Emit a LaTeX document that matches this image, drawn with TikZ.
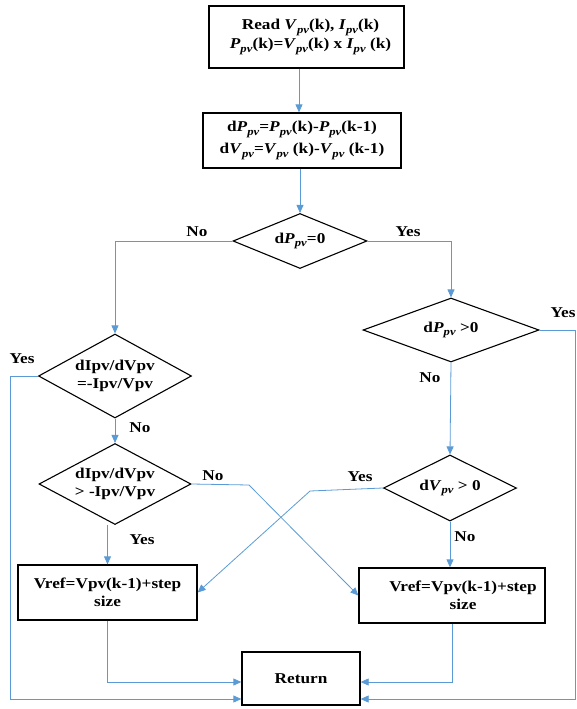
\documentclass[tikz,border=0pt]{standalone}
\usepackage{fontspec}
\setmainfont{Liberation Serif}[FakeStretch=1.15]
\usetikzlibrary{shapes.geometric,arrows.meta}
\definecolor{linkblue}{HTML}{5B9BD5}
\newcommand\sbx[1]{\raisebox{-0.5ex}{\fontsize{11}{11}\selectfont\textit{#1}}}
\newcommand\PV[1]{\textit{#1}\sbx{pv}}
\begin{document}
\begin{tikzpicture}[x=1pt,y=-1pt,
  every node/.style={font=\bfseries\fontsize{15}{18}\selectfont},
  procbox/.style={draw, line width=1.3pt, rectangle, inner sep=0pt, align=center},
  decbox/.style={draw, line width=1.1pt, diamond, inner sep=0pt, align=center},
  link/.style={draw=linkblue, line width=0.8pt},
  arr/.style={link, -{Triangle[length=8pt,width=7pt]}},
  lbl/.style={inner sep=0pt}]
\useasboundingbox (0,0) rectangle (576,709);

% process boxes
\node[procbox, minimum width=195pt, minimum height=62pt, font=\bfseries\fontsize{15}{19}\selectfont] (b1) at (306.5,37)
  {\hspace*{8pt}Read \PV{V}(k), \PV{I}(k)\\ \hspace*{8pt}\PV{P}(k)=\PV{V}(k) x \PV{I} (k)};
\node[procbox, minimum width=198pt, minimum height=55pt, font=\bfseries\fontsize{15}{22}\selectfont] (b2) at (302,140.5)
  {d\PV{P}=\PV{P}(k)-\PV{P}(k-1)\\ d\PV{V}=\PV{V} (k)-\PV{V} (k-1)};

% decisions
\node[decbox, aspect=2.44, minimum width=134pt, minimum height=55pt] (d1) at (300,241) {d\PV{P}=0};
\node[decbox, aspect=2.75, minimum width=176pt, minimum height=64pt] (d3) at (451,330) {d\PV{P} >0};
\node[decbox, aspect=1.82, minimum width=153pt, minimum height=84pt] (d2) at (115,376) {dIpv/dVpv\\=-Ipv/Vpv};
\node[decbox, aspect=1.88, minimum width=152pt, minimum height=81pt] (d5) at (115,484) {dIpv/dVpv\\> -Ipv/Vpv};
\node[decbox, aspect=2.0, minimum width=133pt, minimum height=66pt] (d4) at (450,488) {d\PV{V} > 0};

% action boxes
\node[procbox, minimum width=179pt, minimum height=55pt] (bL) at (107.5,592.5) {Vref=Vpv(k-1)+step\\size};
\node[procbox, minimum width=186pt, minimum height=55pt] (bR) at (452,595.5) {\hspace*{22pt}Vref=Vpv(k-1)+step\\\hspace*{22pt}size};
\node[procbox, minimum width=118pt, minimum height=53pt] (ret) at (301,678.5) {Return};

% helper coordinates
\coordinate (lOut) at (10,699);
\coordinate (rOut) at (575,699);
\coordinate (lIn) at (107.5,682);
\coordinate (rIn) at (452,682);
\coordinate (yBend) at (310,491);
\coordinate (nBend) at (249,485);

% connectors
\draw[arr] (b1.south -| 299,0) -- (b2.north -| 299,0);
\draw[arr] (b2.south -| d1.north) -- (d1.north);
\draw[arr] (d1.west) -| (d2.north);
\draw[arr] (d1.east) -| (d3.north);
\draw[arr] (d3.south) -- (d4.north);
\draw[arr] (d4.south) -- (d4.south |- bR.north);
\draw[arr] (d2.south) -- (d5.north);
\draw[arr] (d5.south -| bL.north) -- (bL.north);
\draw[arr] (d4.west) -- (yBend) -- (bL.east);
\draw[arr] (d5.east) -- (nBend) -- (bR.west);
\draw[arr] (d2.west) -| (lOut) -- (lOut -| ret.west);
\draw[arr] (d3.east) -| (rOut) -- (rOut -| ret.east);
\draw[arr] (bL.south) -- (lIn) -- (lIn -| ret.west);
\draw[arr] (bR.south) -- (rIn) -- (rIn -| ret.east);

% labels
\node[lbl] (l1) at (197,232) {No};
\node[lbl] (l2) at (408,232) {Yes};
\node[lbl] (l3) at (563,313) {Yes};
\node[lbl] (l4) at (430,378) {No};
\node[lbl] (l5) at (22,359) {Yes};
\node[lbl] (l6) at (140,428) {No};
\node[lbl] (l7) at (213,476) {No};
\node[lbl] (l8) at (142,540) {Yes};
\node[lbl] (l9) at (360,477) {Yes};
\node[lbl] (l10) at (465,537) {No};
\end{tikzpicture}
\end{document}
